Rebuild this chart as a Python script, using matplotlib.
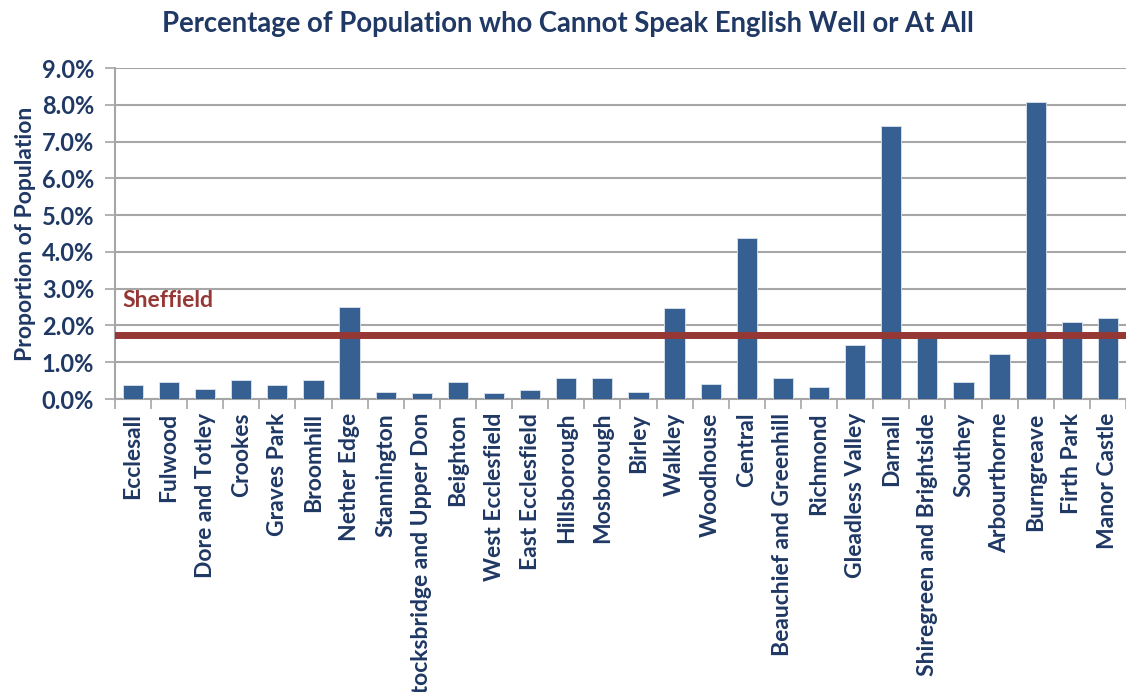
import matplotlib
matplotlib.use("Agg")
import matplotlib.pyplot as plt
import numpy as np
from matplotlib.ticker import FuncFormatter

wards = ["Ecclesall", "Fulwood", "Dore and Totley", "Crookes", "Graves Park", "Broomhill",
         "Nether Edge", "Stannington", "Stocksbridge and Upper Don", "Beighton",
         "West Ecclesfield", "East Ecclesfield", "Hillsborough", "Mosborough", "Birley",
         "Walkley", "Woodhouse", "Central", "Beauchief and Greenhill", "Richmond",
         "Gleadless Valley", "Darnall", "Shiregreen and Brightside", "Southey",
         "Arbourthorne", "Burngreave", "Firth Park", "Manor Castle"]
pct = [0.39, 0.46, 0.27, 0.52, 0.39, 0.52, 2.51, 0.19, 0.15, 0.45, 0.16, 0.24, 0.58, 0.57,
       0.19, 2.48, 0.41, 4.37, 0.58, 0.34, 1.48, 7.43, 1.76, 0.46, 1.23, 8.07, 2.09, 2.19]
sheffield = 1.73
yticks = [0, 1, 2, 3, 4, 5, 6, 7, 8, 9]

FONT = ["Lato", "DejaVu Sans"]
TXT = "#1F3864"
BAR = "#366092"
RED = "#953735"
GRID = "#A6A6A6"

fig = plt.figure(figsize=(11.26, 6.92), dpi=100)
ax = fig.add_axes([0.102, 0.4234, 0.898, 0.4783])

x = np.arange(len(wards))
ax.bar(x, pct, width=0.56, color=BAR, edgecolor="#DDE3EC", linewidth=0.6, zorder=3)
ax.axhline(sheffield, color=RED, linewidth=5, zorder=4)
ax.text(-0.3, 2.97, "Sheffield", color=RED, fontsize=16.5, fontweight="bold",
        family=FONT, ha="left", va="top", zorder=5)

ax.set_xlim(-0.5, len(wards) - 0.5)
ax.set_ylim(0, 9)
ax.set_yticks(yticks)
ax.yaxis.set_major_formatter(FuncFormatter(lambda v, p: f"{v:.1f}%"))
ax.grid(axis="y", color=GRID, linewidth=1.5, zorder=0)
ax.set_axisbelow(True)

ax.set_xticks(np.arange(len(wards) + 1) - 0.5)
ax.set_xticklabels([])
ax.set_xticks(x, minor=True)
ax.set_xticklabels(wards, minor=True, rotation=90, ha="center", va="top",
                   fontsize=16.5, fontweight="bold", color=TXT, family=FONT)
ax.tick_params(axis="x", which="major", length=7, width=1.2, color=GRID, direction="out")
ax.tick_params(axis="x", which="minor", length=0, pad=10)
ax.tick_params(axis="y", length=7, width=1.2, color=GRID, pad=8)
for lab in ax.get_yticklabels():
    lab.set_fontsize(17)
    lab.set_fontweight("bold")
    lab.set_color(TXT)
    lab.set_family(FONT)

for s in ["top", "right"]:
    ax.spines[s].set_visible(False)
ax.spines["left"].set_color(GRID)
ax.spines["left"].set_linewidth(1.5)
ax.spines["bottom"].set_color(GRID)
ax.spines["bottom"].set_linewidth(1.5)

ax.set_ylabel("Proportion of Population", fontsize=16.5, fontweight="bold", color=TXT,
              family=FONT, labelpad=4)
fig.text(0.504, 0.965, "Percentage of Population who Cannot Speak English Well or At All",
         ha="center", va="center", fontsize=19.8, fontweight="bold", color=TXT, family=FONT)

fig.savefig("out.png", dpi=100)
